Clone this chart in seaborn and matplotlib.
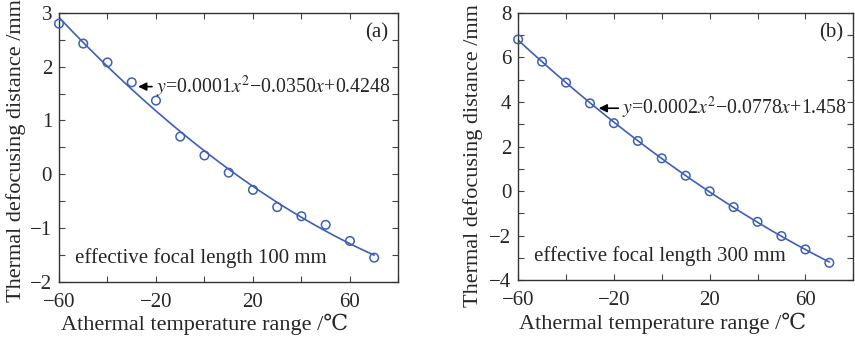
import numpy as np
import pandas as pd
import matplotlib
matplotlib.use("Agg")
import matplotlib.pyplot as plt
import seaborn as sns

temps = [-60, -50, -40, -30, -20, -10, 0, 10, 20, 30, 40, 50, 60, 70]
defocus_100 = [2.80, 2.43, 2.08, 1.71, 1.37, 0.70, 0.35, 0.03, -0.29, -0.61,
               -0.78, -0.94, -1.24, -1.55]
defocus_300 = [6.81, 5.81, 4.87, 3.94, 3.05, 2.25, 1.47, 0.69, -0.01, -0.72,
               -1.38, -2.02, -2.62, -3.22]

x_ticks = [-60, -40, -20, 0, 20, 40, 60, 80]
x_ticklabels = ['\u221260', '', '\u221220', '', '20', '', '60', '']
a_yticks = [-2, -1.5, -1, -0.5, 0, 0.5, 1, 1.5, 2, 2.5, 3]
a_yticklabels = ['\u22122', '', '\u22121', '', '0', '', '1', '', '2', '', '3']
b_yticks = [-4, -3, -2, -1, 0, 1, 2, 3, 4, 5, 6, 7, 8]
b_yticklabels = ['\u22124', '', '\u22122', '', '0', '', '2', '', '4', '', '6', '', '8']

eq_a = '$y$=0.0001$x^2$\u22120.0350$x$+0.4248'
eq_b = '$y$=0.0002$x^2$\u22120.0778$x$+1.458'

df = pd.DataFrame({'temp': temps, 'f100': defocus_100, 'f300': defocus_300})

sns.set_theme(style="ticks")
plt.rcParams['font.family'] = ['Liberation Serif', 'DejaVu Serif']
plt.rcParams['mathtext.fontset'] = 'stix'
plt.rcParams['axes.edgecolor'] = '#333333'
plt.rcParams['axes.linewidth'] = 1.0

blue = '#3d5fb5'

fig = plt.figure(figsize=(8.55, 3.4), dpi=100)
ax1 = fig.add_axes([0.069, 0.171, 0.397, 0.791])
ax2 = fig.add_axes([0.606, 0.176, 0.392, 0.786])

panels = [
    (ax1, 'f100', (-2, 3), a_yticks, a_yticklabels, '(a)',
     'effective focal length 100 mm', eq_a, (-28.5, 1.63), (-20.5, 1.63)),
    (ax2, 'f300', (-4, 8), b_yticks, b_yticklabels, '(b)',
     'effective focal length 300 mm', eq_b, (-27.5, 3.72), (-17.0, 3.72)),
]

for ax, col, ylim, yt, ytl, tag, note, eq, head, tail in panels:
    sns.regplot(data=df, x='temp', y=col, order=2, ci=None, scatter=False,
                ax=ax, line_kws=dict(color=blue, lw=1.2))
    sns.scatterplot(data=df, x='temp', y=col, ax=ax, marker='o', s=38,
                    facecolor='none', edgecolor=blue, linewidth=1.1,
                    zorder=3, clip_on=False)
    ax.set_xlim(-60, 80)
    ax.set_ylim(*ylim)
    ax.set_xticks(x_ticks)
    ax.set_xticklabels(x_ticklabels)
    ax.set_yticks(yt)
    ax.set_yticklabels(ytl)
    ax.tick_params(direction='in', top=True, right=True, length=4,
                   width=0.8, labelsize=15, color='#444444')
    ax.tick_params(axis='x', pad=8)
    ax.tick_params(axis='y', pad=5)
    ax.set_xlabel('Athermal temperature range /\u2103', fontsize=16)
    ax.set_ylabel('Thermal defocusing distance /mm', fontsize=16)
    ax.xaxis.set_label_coords(0.43, -0.12)
    ax.text(0.97, 0.925, tag, transform=ax.transAxes, ha='right', va='center',
            fontsize=15)
    ax.text(0.047, 0.09, note, transform=ax.transAxes, ha='left', va='center',
            fontsize=15)
    ax.annotate('', xy=head, xytext=tail,
                arrowprops=dict(arrowstyle='-|>', color='black', lw=1.2,
                                mutation_scale=12))
    ax.text(tail[0] + 0.5, tail[1], eq, ha='left', va='center', fontsize=14.3)

ax1.yaxis.set_label_coords(-0.097, 0.49)
ax2.yaxis.set_label_coords(-0.104, 0.465)

fig.savefig('out.png', dpi=100)
